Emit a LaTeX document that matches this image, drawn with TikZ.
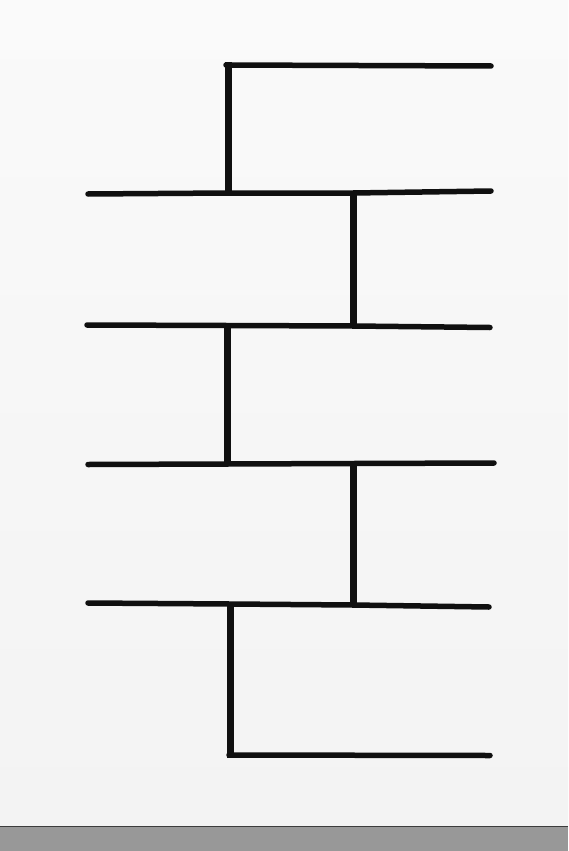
\documentclass[tikz,border=0pt]{standalone}
\definecolor{inkc}{RGB}{16,16,16}
\definecolor{walltop}{RGB}{250,250,250}
\definecolor{wallbot}{RGB}{243,243,243}
\definecolor{floorc}{RGB}{152,152,152}
\definecolor{edgec}{RGB}{60,60,60}
\begin{document}
\begin{tikzpicture}[x=1pt,y=-1pt,
  ink/.style={draw=inkc,line cap=round,line join=miter},
  hline/.style={ink,line width=5.5pt},
  vline/.style={ink,line width=7pt,line cap=butt}]
\useasboundingbox (0,0) rectangle (568,851);
% wall
\shade[top color=walltop,bottom color=wallbot] (0,0) rectangle (568,826);
% floor
\fill[floorc] (0,826) rectangle (568,851);
\draw[edgec,line width=1.2pt] (0,826.5) -- (568,826.5);
% verticals
\draw[vline] (228,62.5) -- (228,194);
\draw[vline] (353,191) -- (353,327);
\draw[vline] (227,324) -- (227,465);
\draw[vline] (353,462) -- (353,606);
\draw[vline] (230,603) -- (230,757.5);
% horizontals
\draw[hline] (226,65) -- (491,66);
\draw[hline] (88,194) -- (228,193) -- (353,193) -- (491,191);
\draw[hline] (87,325) -- (227,325.5) -- (353,326) -- (490,327.5);
\draw[hline] (88,464.5) -- (227,464) -- (353,463.5) -- (494,463);
\draw[hline] (88,603) -- (230,604) -- (353,605) -- (489,607);
\draw[hline] (229,755) -- (490,755.5);
\end{tikzpicture}
\end{document}
